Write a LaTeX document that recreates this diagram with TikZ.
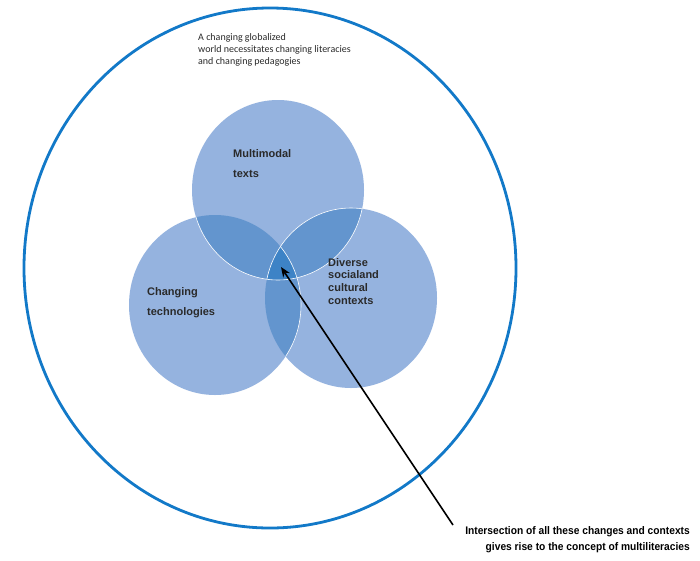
\documentclass[tikz,border=0pt]{standalone}
\usepackage{fontspec}
\setmainfont{Liberation Sans}
\newfontfamily\carlito{Carlito}
\usetikzlibrary{arrows.meta}
\definecolor{ringblue}{HTML}{1279C8}
\definecolor{lightfill}{HTML}{95B3DF}
\definecolor{midfill}{HTML}{6395CE}
\definecolor{darkfill}{HTML}{3D83C6}
\definecolor{txtgray}{HTML}{2A2A2A}
\begin{document}
\begin{tikzpicture}[x=1pt,y=-1pt,
  lbl/.style={inner sep=0pt, anchor=base west, align=left, text=txtgray,
    font=\bfseries\fontsize{11}{20}\selectfont},
  lblsmall/.style={lbl, font=\bfseries\fontsize{11}{12.6}\selectfont},
  vennshape/.style={x radius=86pt, y radius=90pt}]
\useasboundingbox (0,0) rectangle (700,560);
\fill[white] (0,0) rectangle (700,560);
% outer ellipse
\draw[ringblue, line width=2.8pt] (270,268) ellipse [x radius=246pt, y radius=260pt];
% circle centres
\coordinate (T) at (278,190);
\coordinate (L) at (215,305);
\coordinate (R) at (351,298);
% base fills
\fill[lightfill] (T) ellipse [vennshape];
\fill[lightfill] (L) ellipse [vennshape];
\fill[lightfill] (R) ellipse [vennshape];
% pairwise overlaps
\begin{scope}
  \clip (T) ellipse [vennshape];
  \fill[midfill] (L) ellipse [vennshape];
  \fill[midfill] (R) ellipse [vennshape];
\end{scope}
\begin{scope}
  \clip (L) ellipse [vennshape];
  \fill[midfill] (R) ellipse [vennshape];
\end{scope}
% triple overlap
\begin{scope}
  \clip (T) ellipse [vennshape];
  \clip (L) ellipse [vennshape];
  \fill[darkfill] (R) ellipse [vennshape];
\end{scope}
% thin white seams
\begin{scope}
  \clip (L) ellipse [vennshape] (R) ellipse [vennshape];
  \draw[white, line width=0.6pt] (T) ellipse [vennshape];
\end{scope}
\begin{scope}
  \clip (T) ellipse [vennshape];
  \draw[white, line width=0.6pt] (R) ellipse [vennshape];
\end{scope}
\begin{scope}
  \clip (R) ellipse [vennshape];
  \draw[white, line width=0.6pt] (L) ellipse [vennshape];
\end{scope}
% texts (base anchor = baseline of the last line)
\node[inner sep=0pt, anchor=base west, align=left, text=txtgray,
  font=\carlito\fontsize{10}{12}\selectfont] (world) at (198,64)
  {A changing globalized\\world necessitates changing literacies\\and changing pedagogies};
\node[lbl] (multi) at (233,177) {Multimodal\\texts};
\node[lbl] (tech) at (147,315) {Changing\\technologies};
\node[lblsmall] (diverse) at (328,304) {Diverse\\socialand\\cultural\\contexts};
\node[inner sep=0pt, anchor=base east, align=right, text=black, xscale=0.93,
  font=\bfseries\fontsize{11}{16}\selectfont] (inter) at (690,550)
  {Intersection of all these changes and contexts\\gives rise to the concept of multiliteracies};
% arrow
\coordinate (tail) at (453,525);
\coordinate (centre) at (281,267);
\draw[black, line width=1.6pt, -{Stealth[length=10pt,width=8pt]}] (tail) -- (centre);
\end{tikzpicture}
\end{document}
